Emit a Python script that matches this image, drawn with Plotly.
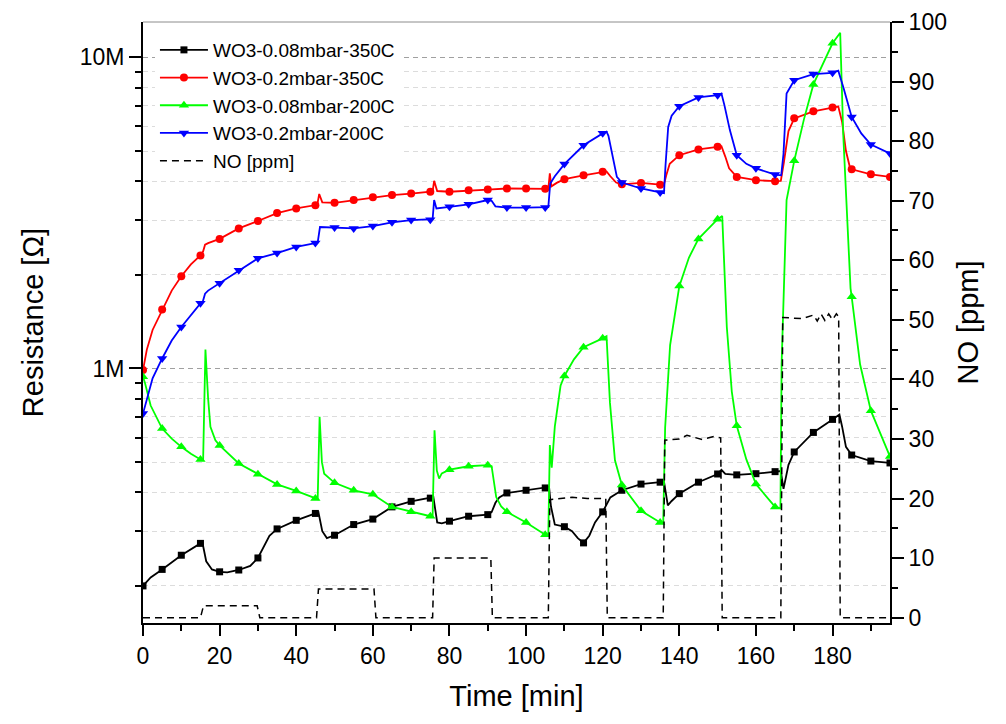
import plotly.graph_objects as go
from plotly.subplots import make_subplots

FONT = "Liberation Sans, Arial, sans-serif"

# ---- WO3-0.08mbar-350C : time [min], resistance [MOhm]
t_b = [0, 2, 5, 10, 15, 15.5, 16.5, 18, 20, 22, 25, 28, 30, 31.5, 33, 35, 40, 45, 45.8,
       46.8, 48, 50, 55, 60, 62, 65, 70, 75, 75.8, 76.8, 78, 80, 85, 90, 91, 92, 93, 95,
       100, 105, 106, 106.5, 107.5, 110, 112, 113.5, 115, 116.5, 118, 120, 122, 125, 130,
       135, 136, 137, 138, 140, 145, 150, 151, 152, 155, 160, 165, 166.5, 167.2, 168.5,
       170, 175, 180, 181.8, 182.5, 183.5, 185, 190, 195]
r_b = [0.200, 0.213, 0.226, 0.251, 0.274, 0.276, 0.240, 0.226, 0.222, 0.221, 0.225, 0.232,
       0.246, 0.268, 0.290, 0.305, 0.325, 0.342, 0.345, 0.300, 0.285, 0.291, 0.315, 0.328,
       0.340, 0.359, 0.374, 0.383, 0.386, 0.320, 0.318, 0.323, 0.335, 0.339, 0.345, 0.370,
       0.385, 0.398, 0.406, 0.413, 0.416, 0.360, 0.315, 0.310, 0.300, 0.285, 0.275, 0.290,
       0.320, 0.346, 0.385, 0.406, 0.425, 0.431, 0.433, 0.363, 0.375, 0.396, 0.431, 0.458,
       0.472, 0.458, 0.455, 0.459, 0.466, 0.468, 0.410, 0.490, 0.539, 0.623, 0.686, 0.711,
       0.650, 0.560, 0.527, 0.504, 0.497]

# ---- WO3-0.2mbar-350C
t_r = [0, 1, 2.5, 5, 7.5, 10, 12.5, 15, 15.7, 16.2, 17, 20, 25, 30, 35, 40, 45, 45.5, 46,
       46.8, 50, 55, 60, 65, 70, 75, 75.6, 76, 76.8, 80, 85, 90, 95, 100, 105, 105.8,
       106.2, 106.6, 108, 110, 115, 120, 121, 122, 123.5, 125, 130, 135, 136, 136.6,
       137.5, 140, 145, 150, 151, 152, 153, 155, 160, 165, 166.5, 167.3, 168.5, 170, 175,
       180, 181.5, 182.5, 183.5, 184.5, 185, 190, 195]
r_r = [0.988, 1.15, 1.33, 1.548, 1.78, 1.98, 2.16, 2.31, 2.38, 2.50, 2.53, 2.61, 2.82, 2.98,
       3.16, 3.27, 3.35, 3.36, 3.64, 3.42, 3.41, 3.48, 3.55, 3.61, 3.65, 3.70, 3.71, 4.01,
       3.72, 3.70, 3.74, 3.76, 3.79, 3.79, 3.78, 3.78, 4.24, 3.85, 3.95, 4.06, 4.18, 4.29,
       4.30, 4.15, 3.96, 3.91, 3.95, 3.90, 3.91, 4.18, 4.55, 4.85, 5.06, 5.16, 5.18, 4.80,
       4.40, 4.13, 4.03, 4.00, 4.01, 4.60, 5.80, 6.37, 6.71, 6.90, 6.95, 6.20, 5.00, 4.45,
       4.37, 4.21, 4.13]

# ---- WO3-0.08mbar-200C
t_g = [0, 0.5, 2, 5, 7.5, 10, 12.5, 15, 15.7, 16.3, 17, 17.6, 18.9, 20, 25, 30, 35, 40, 45,
       45.6, 46.1, 46.7, 47.3, 50, 55, 60, 65, 70, 75, 75.6, 76.1, 76.7, 77.3, 78, 80, 85,
       90, 91, 92.2, 93.5, 95, 100, 105, 105.8, 106.2, 106.7, 107.5, 109, 110, 112.5, 115,
       120, 121, 121.9, 123.2, 125, 130, 135, 135.8, 136.3, 137.6, 140, 142.5, 145, 150,
       151.2, 152.4, 153.7, 155, 157.5, 160, 165, 166.4, 166.7, 168, 170, 172.5, 175, 180,
       182, 182.8, 184.7, 185, 187.2, 190, 195]
r_g = [0.94, 0.90, 0.76, 0.641, 0.595, 0.560, 0.532, 0.510, 0.51, 1.15, 0.80, 0.649, 0.588,
       0.566, 0.495, 0.457, 0.424, 0.404, 0.382, 0.38, 0.699, 0.50, 0.459, 0.429, 0.406,
       0.394, 0.359, 0.346, 0.335, 0.335, 0.633, 0.47, 0.443, 0.46, 0.473, 0.485, 0.489,
       0.485, 0.386, 0.36, 0.346, 0.320, 0.292, 0.29, 0.567, 0.48, 0.65, 0.88, 0.946, 1.07,
       1.17, 1.25, 1.27, 0.775, 0.507, 0.422, 0.349, 0.320, 0.318, 0.645, 1.19, 1.84, 2.27,
       2.61, 3.02, 3.09, 1.36, 0.843, 0.654, 0.51, 0.425, 0.359, 0.355, 1.03, 3.48, 4.65,
       6.3, 8.19, 11.1, 12.0, 5.63, 1.81, 1.70, 1.03, 0.732, 0.521]

# ---- WO3-0.2mbar-200C
t_u = [0, 1, 2.5, 5, 7.5, 10, 12.5, 15, 15.6, 16.2, 17, 20, 25, 30, 35, 40, 45, 45.6, 46.2,
       50, 55, 60, 65, 70, 75, 75.6, 76, 76.6, 80, 85, 90, 91, 92, 95, 100, 105, 105.8,
       106.3, 107.5, 110, 115, 120, 121, 121.5, 122.4, 123.7, 125, 130, 135, 136, 136.4,
       137.1, 138, 140, 145, 150, 151, 151.8, 153.2, 155, 157.5, 160, 165, 166.6, 167.2,
       168, 170, 175, 180, 181.5, 182.8, 185, 187.5, 190, 195]
r_u = [0.716, 0.80, 0.93, 1.077, 1.23, 1.36, 1.49, 1.62, 1.64, 1.74, 1.78, 1.88, 2.07, 2.26,
       2.35, 2.46, 2.53, 2.54, 2.85, 2.84, 2.82, 2.87, 2.95, 3.00, 3.01, 3.02, 3.48, 3.27,
       3.31, 3.37, 3.48, 3.46, 3.32, 3.29, 3.29, 3.29, 3.30, 3.93, 4.15, 4.54, 5.22, 5.70,
       5.77, 5.60, 4.91, 4.13, 3.96, 3.79, 3.68, 3.66, 4.50, 5.98, 6.50, 6.97, 7.44, 7.56,
       7.66, 7.00, 5.84, 4.85, 4.55, 4.40, 4.20, 4.18, 4.90, 7.66, 8.45, 8.84, 8.92, 9.06,
       8.04, 6.44, 5.70, 5.25, 4.91]

# ---- NO concentration [ppm]
t_no = [0, 15, 15.8, 29.8, 30.5, 45.3, 45.8, 60.3, 60.8, 75.6, 76, 90.8, 91.2, 105.8, 106.2,
        112, 116, 120.8, 121.2, 135.8, 136.2, 140, 142, 144, 146, 149, 150.8, 151.2, 166.5,
        167, 172, 175, 176, 177, 178, 179, 180, 181, 181.6, 182, 195]
no_ppm = [0, 0, 2, 2, 0, 0, 4.8, 4.8, 0, 0, 10, 10, 0, 0, 19.8, 20.2, 20.0, 20.0, 0, 0, 29.8,
          30.0, 30.6, 30.2, 29.9, 30.4, 30.2, 0, 0, 50.4, 50.2, 50.8, 49.8, 51.0, 49.9, 51.0,
          50.0, 51.0, 50.5, 0, 0]

series = [
    ("WO3-0.08mbar-350C", t_b, r_b, "#000000", "square", 7),
    ("WO3-0.2mbar-350C", t_r, r_r, "#ff0000", "circle", 8),
    ("WO3-0.08mbar-200C", t_g, r_g, "#00ff00", "triangle-up", 9),
    ("WO3-0.2mbar-200C", t_u, r_u, "#0000ff", "triangle-down", 9),
]

fig = make_subplots(specs=[[{"secondary_y": True}]])

for name, ts, rs, color, symbol, msize in series:
    ohm = [v * 1e6 for v in rs]
    # continuous measured curve
    fig.add_trace(go.Scatter(x=ts, y=ohm, mode="lines", line=dict(color=color, width=1.8),
                             showlegend=False, legendgroup=name, hoverinfo="skip"),
                  secondary_y=False)
    # symbols every 5 minutes
    idx = [i for i, t in enumerate(ts) if float(t).is_integer() and int(t) % 5 == 0]
    fig.add_trace(go.Scatter(x=[ts[i] for i in idx], y=[ohm[i] for i in idx], mode="markers",
                             marker=dict(color=color, symbol=symbol, size=msize, line=dict(width=0)),
                             showlegend=False, legendgroup=name),
                  secondary_y=False)
    # legend entry
    fig.add_trace(go.Scatter(x=[None], y=[None], mode="lines+markers", name=name,
                             legendgroup=name, line=dict(color=color, width=1.8),
                             marker=dict(color=color, symbol=symbol, size=msize)),
                  secondary_y=False)

fig.add_trace(go.Scatter(x=t_no, y=no_ppm, mode="lines", name="NO [ppm]",
                         line=dict(color="#000000", width=1.5, dash="7px,5px")),
              secondary_y=True)

axis_common = dict(showline=True, linecolor="#000000", linewidth=2, ticks="outside",
                   tickcolor="#000000", tickwidth=2, zeroline=False, automargin=False,
                   tickfont=dict(family=FONT, size=23, color="#000000"))

fig.update_xaxes(domain=[0, 1], range=[0, 195], tick0=0, dtick=20, ticklen=11, showgrid=False,
                 minor=dict(dtick=10, ticks="outside", ticklen=6, tickwidth=2,
                            tickcolor="#000000", showgrid=False),
                 title=dict(text="Time [min]", font=dict(family=FONT, size=29, color="#000000"),
                            standoff=18),
                 **axis_common)

minor_vals = [k * 1e5 for k in range(2, 10)] + [k * 1e6 for k in range(2, 10)]
fig.update_yaxes(type="log", range=[5.1818, 7.1139], tickvals=[1e6, 1e7], ticktext=["1M", "10M"],
                 ticklen=12, showgrid=True, gridcolor="#a0a0a0", gridwidth=1, griddash="5px,4px",
                 minor=dict(tickvals=minor_vals, ticks="outside", ticklen=6, tickwidth=2,
                            tickcolor="#000000", showgrid=True, gridcolor="#dcdcdc",
                            gridwidth=1, griddash="5px,4px"),
                 title=dict(text="Resistance [Ω]", font=dict(family=FONT, size=29, color="#000000"),
                            standoff=28),
                 secondary_y=False, **axis_common)

fig.update_yaxes(range=[-0.9, 100], tick0=0, dtick=10, ticklen=12, showgrid=False,
                 minor=dict(dtick=5, ticks="outside", ticklen=6, tickwidth=2,
                            tickcolor="#000000", showgrid=False),
                 title=dict(text="NO [ppm]", font=dict(family=FONT, size=29, color="#000000"),
                            standoff=12),
                 secondary_y=True, **axis_common)

# thin frame line along the top of the plot area
fig.add_shape(type="line", xref="paper", yref="paper", x0=0, x1=1, y0=1, y1=1,
              line=dict(color="#8c8c8c", width=1))

fig.update_layout(
    width=1006, height=724,
    margin=dict(l=143, r=116, t=22, b=101, autoexpand=False),
    paper_bgcolor="white", plot_bgcolor="white",
    font=dict(family=FONT, color="#000000"),
    showlegend=True,
    legend=dict(x=0.016, y=0.985, xanchor="left", yanchor="top", bgcolor="white",
                borderwidth=0, tracegroupgap=0, traceorder="normal", itemwidth=48,
                font=dict(family=FONT, size=19, color="#000000")),
)

fig.write_html("out.html")
